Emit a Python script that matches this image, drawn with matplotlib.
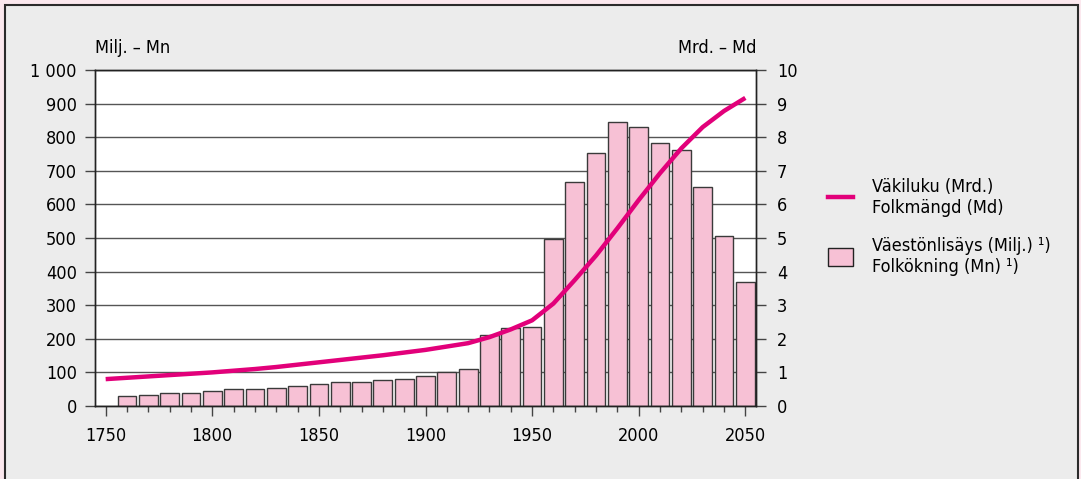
import matplotlib
matplotlib.use("Agg")
import matplotlib.pyplot as plt
from matplotlib.patches import Rectangle
from matplotlib.lines import Line2D
from matplotlib.ticker import MultipleLocator, FuncFormatter

# ---------- Data ----------
BAR_YEARS = [1760, 1770, 1780, 1790, 1800, 1810, 1820, 1830, 1840, 1850,
             1860, 1870, 1880, 1890, 1900, 1910, 1920, 1930, 1940, 1950,
             1960, 1970, 1980, 1990, 2000, 2010, 2020, 2030, 2040, 2050]
GROWTH_MN = [29, 34, 40, 40, 45, 50, 50, 55, 60, 64,
             70, 70, 76, 80, 90, 100, 110, 211, 231, 236,
             497, 668, 754, 844, 830, 783, 762, 651, 505, 368]

POP_YEARS = [1750, 1760, 1770, 1780, 1790, 1800, 1810, 1820, 1830, 1840,
             1850, 1860, 1870, 1880, 1890, 1900, 1910, 1920, 1930, 1940,
             1950, 1960, 1970, 1980, 1990, 2000, 2010, 2020, 2030, 2040, 2050]
POP_MD = [0.80, 0.84, 0.88, 0.92, 0.96, 1.00, 1.05, 1.10, 1.16, 1.23,
          1.30, 1.37, 1.44, 1.51, 1.59, 1.67, 1.77, 1.87, 2.05, 2.28,
          2.55, 3.05, 3.75, 4.48, 5.29, 6.13, 6.93, 7.67, 8.30, 8.78, 9.17]

LEFT_LABEL = "Milj. – Mn"
RIGHT_LABEL = "Mrd. – Md"
LINE_LABEL = "Väkiluku (Mrd.)\nFolkmängd (Md)"
BAR_LABEL = "Väestönlisäys (Milj.) ¹)\nFolkökning (Mn) ¹)"

# ---------- Style ----------
PINK_BAR = "#f7c1d5"
MAGENTA = "#e2007a"
BG = "#ececec"
OUTER = "#fbe8ee"
FS = 13

plt.rcParams["font.family"] = ["DejaVu Sans"]
plt.rcParams["font.stretch"] = "condensed"

W, H = 1081, 479
fig = plt.figure(figsize=(W / 100, H / 100), dpi=100, facecolor=OUTER)

# grey panel with dark frame
fig.add_artist(Rectangle((4.5 / W, -0.05), (1078 - 4.5) / W, 1 - 4.5 / H + 0.05,
                         transform=fig.transFigure, facecolor=BG,
                         edgecolor="#2b2b2b", linewidth=1.5, zorder=0))

ax = fig.add_axes([95 / W, (H - 406) / H, (756 - 95) / W, (406 - 70) / H])
ax.set_facecolor("white")
ax2 = ax.twinx()

ax.bar(BAR_YEARS, GROWTH_MN, width=8.8, color=PINK_BAR,
       edgecolor="#3a3a3a", linewidth=1, zorder=2)
ax2.plot(POP_YEARS, POP_MD, color=MAGENTA, linewidth=3.2,
         solid_capstyle="butt", zorder=3)

ax.set_xlim(1745, 2055)
ax.set_ylim(0, 1000)
ax2.set_ylim(0, 10)

ax.yaxis.set_major_locator(MultipleLocator(100))
ax.yaxis.set_major_formatter(FuncFormatter(
    lambda v, _: f"{int(v):,}".replace(",", " ")))
ax2.yaxis.set_major_locator(MultipleLocator(1))
ax.xaxis.set_major_locator(MultipleLocator(50))
ax.xaxis.set_minor_locator(MultipleLocator(10))

ax.set_axisbelow(True)
ax.grid(axis="y", color="#555555", linewidth=1)

ax.tick_params(axis="y", direction="out", length=7, width=1, color="#444444",
               labelsize=FS, pad=6)
ax2.tick_params(axis="y", direction="out", length=7, width=1, color="#444444",
                labelsize=FS, pad=8)
ax.tick_params(axis="x", which="major", direction="out", length=7, width=1,
               color="#444444", labelsize=FS, pad=8)
ax.tick_params(axis="x", which="minor", direction="out", length=4, width=1,
               color="#444444")

for a in (ax, ax2):
    for side in ("left", "right", "top", "bottom"):
        a.spines[side].set_color("#222222")
        a.spines[side].set_linewidth(1)

ax.text(0.0, 1.065, LEFT_LABEL, transform=ax.transAxes, fontsize=FS,
        ha="left", va="center")
ax.text(1.0, 1.065, RIGHT_LABEL, transform=ax.transAxes, fontsize=FS,
        ha="right", va="center")

handles = [Line2D([], [], color=MAGENTA, linewidth=3.2),
           Rectangle((0, 0), 1, 1, facecolor=PINK_BAR, edgecolor="#222222",
                     linewidth=1)]
fig.legend(handles, [LINE_LABEL, BAR_LABEL], loc="center left",
           bbox_to_anchor=(812 / W, 1 - 227 / H), frameon=False,
           fontsize=FS, handlelength=1.35, handleheight=1.2,
           handletextpad=1.1, labelspacing=1.1)

fig.savefig("out.png", dpi=100, facecolor=OUTER)
